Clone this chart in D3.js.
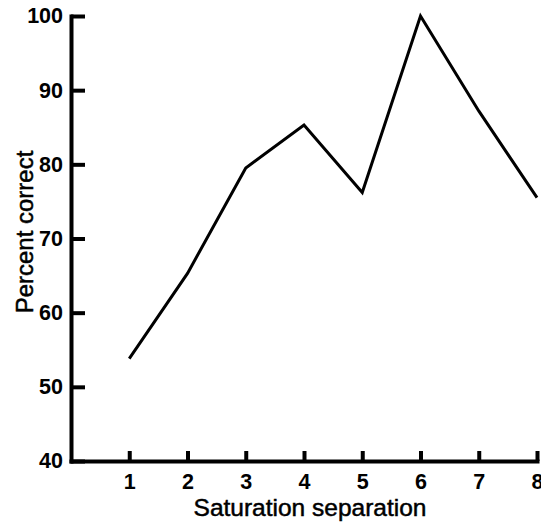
<!DOCTYPE html>
<html><head><meta charset="utf-8">
<script src="https://cdn.jsdelivr.net/npm/d3@7"></script>
<style>body{margin:0;background:#fff}svg{display:block}</style>
</head><body>
<script>
const separations = [1, 2, 3, 4, 5, 6, 7, 8];
const percentCorrect = [53.8, 65.3, 79.5, 85.3, 76.2, 100, 87.2, 75.5];
const yTicks = [40, 50, 60, 70, 80, 90, 100];
const xTicks = [1, 2, 3, 4, 5, 6, 7, 8];

const W = 541, H = 523;
const svg = d3.select("body").append("svg").attr("width", W).attr("height", H);
const x = d3.scaleLinear().domain([0, 8]).range([71, 537]);
const y = d3.scaleLinear().domain([40, 100]).range([461, 16]);
const font = "'Liberation Sans', Arial, sans-serif";

const yAxis = svg.append("g").attr("transform", `translate(${x(0)},0)`)
  .call(d3.axisLeft(y).tickValues(yTicks).tickSizeInner(-14).tickSizeOuter(0).tickPadding(8));
const xAxis = svg.append("g").attr("transform", `translate(0,${y(40)})`)
  .call(d3.axisBottom(x).tickValues(xTicks).tickSizeInner(-10).tickSizeOuter(0).tickPadding(13));

[yAxis, xAxis].forEach(g => {
  g.select(".domain").attr("stroke", "#000").attr("stroke-width", 4).attr("stroke-linecap", "square");
  g.selectAll(".tick line").attr("stroke", "#000").attr("stroke-width", 4);
  g.selectAll(".tick text").attr("fill", "#000").style("font-family", font)
    .style("font-size", "21.5px").style("font-weight", "bold");
});

svg.append("path")
  .datum(separations.map((s, i) => [s, percentCorrect[i]]))
  .attr("fill", "none").attr("stroke", "#000").attr("stroke-width", 3)
  .attr("stroke-linejoin", "miter")
  .attr("d", d3.line().x(d => x(d[0])).y(d => y(d[1])));

svg.append("text").attr("x", 310).attr("y", 516).attr("text-anchor", "middle")
  .style("font-family", font).style("font-size", "24.5px")
  .attr("stroke", "#000").attr("stroke-width", 0.5)
  .text("Saturation separation");
svg.append("text").attr("transform", "translate(33,232) rotate(-90)").attr("text-anchor", "middle")
  .style("font-family", font).style("font-size", "24px")
  .attr("stroke", "#000").attr("stroke-width", 0.5)
  .text("Percent correct");
</script>
</body></html>
